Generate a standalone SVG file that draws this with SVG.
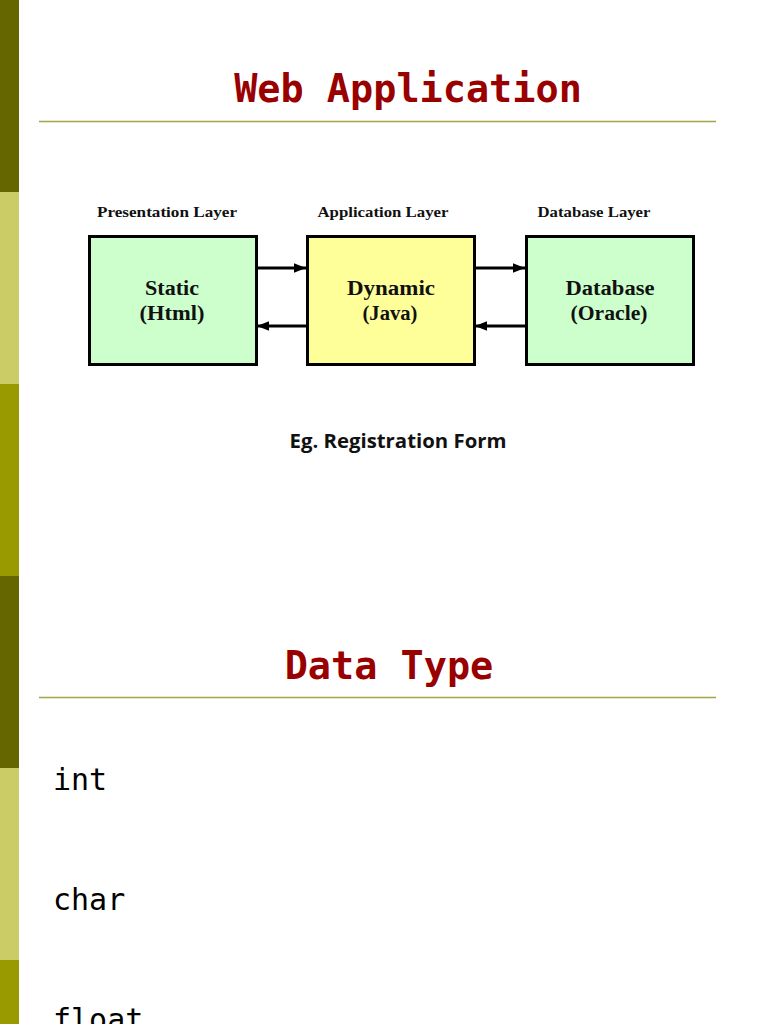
<svg xmlns="http://www.w3.org/2000/svg" width="768" height="1024" viewBox="0 0 768 1024">
<style>
.title{font-family:"DejaVu Sans Mono","Liberation Mono",monospace;font-weight:bold;font-size:38.5px;fill:#990000;text-anchor:middle}
.rule{stroke:#A3A347;stroke-width:1.3}
.layer{font-family:"Liberation Serif","DejaVu Serif",serif;font-weight:bold;font-size:15px;fill:#111;text-anchor:middle}
.box{stroke:#000;stroke-width:3}
.btxt{font-family:"Liberation Serif","DejaVu Serif",serif;font-weight:bold;font-size:20px;fill:#111;text-anchor:middle}
.code{font-family:"DejaVu Sans Mono","Liberation Mono",monospace;font-size:30px;fill:#000}
.conn{stroke:#000;stroke-width:3;fill:none}
</style>
<defs>
<marker id="ah" viewBox="0 0 10 10" refX="10" refY="5" markerWidth="4" markerHeight="4" orient="auto" markerUnits="strokeWidth">
<path d="M0,1 L10,5 L0,9 Z" fill="#000"/>
</marker>
</defs>
<rect width="768" height="1024" fill="#fff"/>
<g id="sidebar">
<rect x="0" y="0" width="19" height="192" fill="#666600"/>
<rect x="0" y="192" width="19" height="192" fill="#CCCC66"/>
<rect x="0" y="384" width="19" height="192" fill="#999900"/>
<rect x="0" y="576" width="19" height="192" fill="#666600"/>
<rect x="0" y="768" width="19" height="192" fill="#CCCC66"/>
<rect x="0" y="960" width="19" height="64" fill="#999900"/>
</g>
<text class="title" x="408" y="102">Web Application</text>
<line class="rule" x1="39" y1="121.5" x2="716" y2="121.5"/>
<text class="layer" x="167" y="217" textLength="140" lengthAdjust="spacingAndGlyphs">Presentation Layer</text>
<text class="layer" x="383" y="217" textLength="131" lengthAdjust="spacingAndGlyphs">Application Layer</text>
<text class="layer" x="594" y="217" textLength="113" lengthAdjust="spacingAndGlyphs">Database Layer</text>
<g id="connectors">
<line class="conn" x1="257" y1="268" x2="306" y2="268" marker-end="url(#ah)"/>
<line class="conn" x1="306" y1="326" x2="257" y2="326" marker-end="url(#ah)"/>
<line class="conn" x1="475" y1="268" x2="525" y2="268" marker-end="url(#ah)"/>
<line class="conn" x1="525" y1="326" x2="475" y2="326" marker-end="url(#ah)"/>
</g>
<g id="static">
<rect class="box" x="89.5" y="236.5" width="167" height="128" fill="#CCFFCC"/>
<text class="btxt" x="172" y="295" textLength="54" lengthAdjust="spacingAndGlyphs">Static</text>
<text class="btxt" x="172" y="320" textLength="65" lengthAdjust="spacingAndGlyphs">(Html)</text>
</g>
<g id="dynamic">
<rect class="box" x="307.5" y="236.5" width="167" height="128" fill="#FFFF99"/>
<text class="btxt" x="391" y="295" textLength="88" lengthAdjust="spacingAndGlyphs">Dynamic</text>
<text class="btxt" x="390" y="320" textLength="55" lengthAdjust="spacingAndGlyphs">(Java)</text>
</g>
<g id="database">
<rect class="box" x="526.5" y="236.5" width="167" height="128" fill="#CCFFCC"/>
<text class="btxt" x="610" y="295" textLength="89" lengthAdjust="spacingAndGlyphs">Database</text>
<text class="btxt" x="609" y="320" textLength="77" lengthAdjust="spacingAndGlyphs">(Oracle)</text>
</g>
<text x="398" y="448" font-family="'Open Sans','Liberation Sans',Arial,sans-serif" font-weight="bold" font-size="19" fill="#111" text-anchor="middle" textLength="217" lengthAdjust="spacingAndGlyphs">Eg. Registration Form</text>
<text class="title" x="389" y="679">Data Type</text>
<line class="rule" x1="39" y1="697.5" x2="716" y2="697.5"/>
<text class="code" x="53" y="790">int</text>
<text class="code" x="53" y="910">char</text>
<text class="code" x="53" y="1030">float</text>
</svg>
